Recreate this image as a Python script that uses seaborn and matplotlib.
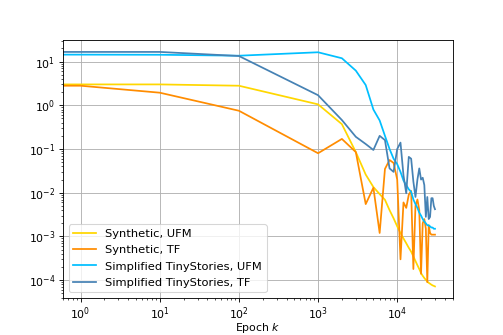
import matplotlib
matplotlib.use("Agg")
import matplotlib.pyplot as plt
import seaborn as sns
import pandas as pd
import numpy as np

# epochs: 0, 1, 10, 100, then every 1000 up to 30000
epochs = [0, 1, 10, 100] + list(range(1000, 31000, 1000))

synthetic_ufm = [3.0, 3.0, 3.0, 2.8,
                 1.05, 0.37, 0.085, 0.026, 0.0135, 0.0093, 0.0069, 0.0040, 0.0026, 0.0017,
                 0.0012, 9.0e-4, 7.0e-4, 5.5e-4, 4.5e-4, 3.5e-4, 2.75e-4, 2.2e-4, 1.8e-4, 1.45e-4,
                 1.26e-4, 1.12e-4, 1.02e-4, 9.3e-5, 8.7e-5, 8.3e-5, 7.9e-5, 7.6e-5, 7.4e-5, 7.2e-5]

synthetic_tf = [3.0, 2.8, 1.94, 0.75,
                0.08, 0.17, 0.085, 0.0055, 0.013, 0.0012, 0.035, 0.056, 0.048, 0.02,
                3.0e-4, 0.006, 0.0045, 0.009, 0.011, 1.8e-4, 0.005, 0.007, 0.004, 1.4e-4,
                0.002, 0.0025, 0.0015, 9e-5, 0.0018, 0.0012, 0.0011, 0.0011, 0.0011, 0.0011]

tiny_ufm = [14.4, 14.4, 14.3, 13.6,
            16.3, 11.9, 6.2, 2.9, 0.8, 0.45, 0.2, 0.1, 0.06, 0.045,
            0.03, 0.019, 0.015, 0.012, 0.0105, 0.007, 0.0055, 0.0045, 0.0035, 0.003,
            0.0025, 0.0022, 0.002, 0.0018, 0.0018, 0.0017, 0.0016, 0.0016, 0.0015, 0.0015]

tiny_tf = [16.6, 16.6, 16.6, 13.4,
           1.7, 0.46, 0.19, 0.13, 0.095, 0.2, 0.16, 0.036, 0.03, 0.1,
           0.14, 0.025, 0.0097, 0.066, 0.06, 0.018, 0.008, 0.02, 0.036, 0.02,
           0.022, 0.015, 0.0028, 0.008, 0.0025, 0.0028, 0.0075, 0.0075, 0.005, 0.0042]

labels = ["Synthetic, UFM", "Synthetic, TF",
          "Simplified TinyStories, UFM", "Simplified TinyStories, TF"]
colors = ["gold", "darkorange", "deepskyblue", "steelblue"]
series = [synthetic_ufm, synthetic_tf, tiny_ufm, tiny_tf]

dpi = 78.6
fig, ax = plt.subplots(figsize=(503 / dpi, 335 / dpi), dpi=dpi)

for vals, lab, col in zip(series, labels, colors):
    sns.lineplot(x=epochs, y=vals, label=lab, color=col, estimator=None,
                 sort=False, linewidth=1.6, ax=ax)

ax.set_xscale("log")
ax.set_yscale("log")
ax.relim()
ax.autoscale_view()
ax.grid(True, which="major")
ax.set_xlabel("Epoch $k$")
ax.xaxis.set_label_coords(0.5, -0.088)
ax.legend(loc="lower left", fontsize=10.5, labelspacing=0.55)

fig.savefig("out.png", dpi=dpi)
